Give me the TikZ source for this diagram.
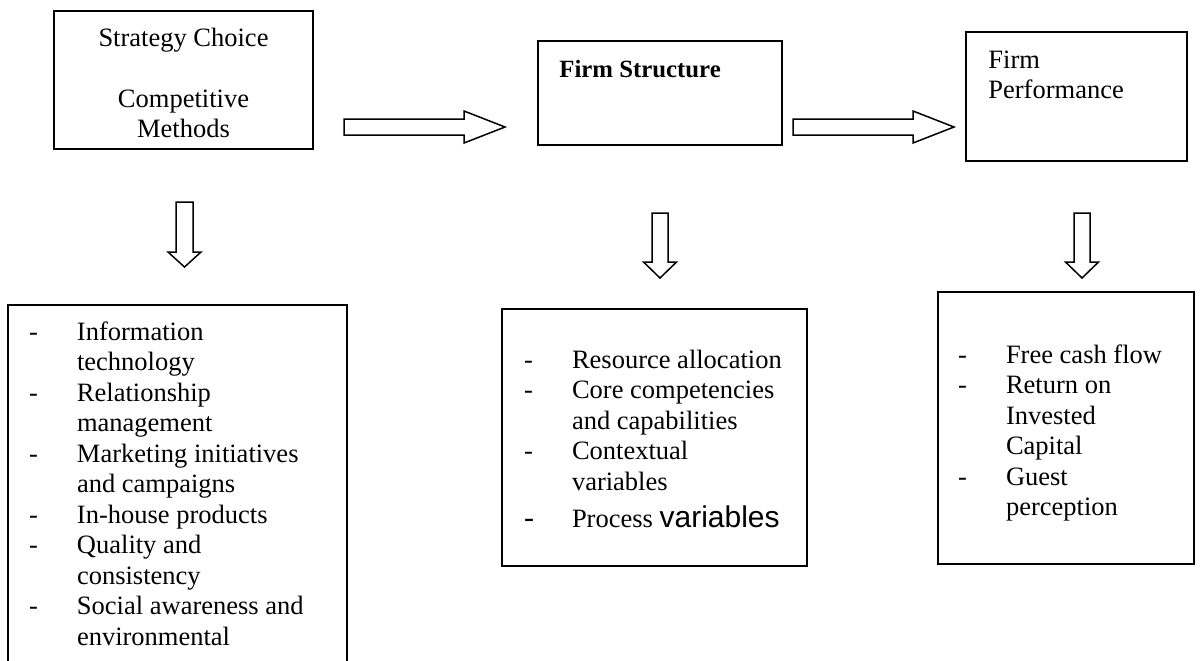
\documentclass[tikz,border=0pt]{standalone}
\usepackage{fontspec}
\setmainfont{Liberation Serif}
\setsansfont{Liberation Sans}
\usetikzlibrary{fit}

\tikzset{
  box/.style={draw, line width=1pt, inner sep=0pt},
  txt/.style={inner sep=0pt, font=\fontsize{13.25}{15.25}\selectfont},
  blockarrow/.style={draw, line width=0.75pt, line join=miter, fill=white}
}

\begin{document}
\begin{tikzpicture}[x=0.5pt, y=-0.5pt]
\useasboundingbox (0,0) rectangle (1202,660);

% --- the three top boxes
\node[box, fit={(54,11) (313,149)}] (choice) {};
\node[txt, anchor=base] (choicetext) at (183.5,46) {%
\begin{tabular}[t]{@{}c@{}}Strategy Choice\\ \\ Competitive\\ Methods\end{tabular}};

\node[box, fit={(538,41) (782,145)}] (structure) {};
\node[txt, anchor=base west, font=\fontsize{12.4}{15}\selectfont\bfseries] (structuretext)
  at (559,77) {Firm Structure};

\node[box, fit={(966,32) (1187,161)}] (performance) {};
\node[txt, anchor=base west] (performancetext) at (988,68) {%
\begin{tabular}[t]{@{}l@{}}Firm\\ Performance\end{tabular}};

% --- the arrows between them
\draw[blockarrow] (344,119) -- (464,119) -- (464,111) -- (505,127) -- (464,143)
  -- (464,135) -- (344,135) -- cycle;
\draw[blockarrow] (793,119) -- (913,119) -- (913,111) -- (954,127) -- (913,143)
  -- (913,135) -- (793,135) -- cycle;

% ---- the arrows going down
\draw[blockarrow] (176,202) -- (193,202) -- (193,252) -- (201,252) -- (184.5,267)
  -- (168,252) -- (176,252) -- cycle;
\draw[blockarrow] (652,213) -- (668,213) -- (668,262) -- (676.5,262) -- (660,278)
  -- (643.5,262) -- (652,262) -- cycle;
\draw[blockarrow] (1074,213) -- (1090,213) -- (1090,262) -- (1098.5,262) -- (1082,278)
  -- (1065.5,262) -- (1074,262) -- cycle;

% --- the lists (the left one runs off the page)
\node[box, fit={(8,305) (347,700)}] (methods) {};
\node[txt, anchor=base west] (methodslist) at (28.6,340) {%
\begin{tabular}[t]{@{}p{24pt}@{}l@{}}
- & Information\\
  & technology\\
- & Relationship\\
  & management\\
- & Marketing initiatives\\
  & and campaigns\\
- & In-house products\\
- & Quality and\\
  & consistency\\
- & Social awareness and\\
  & environmental
\end{tabular}};

\node[box, fit={(502,309) (807,566)}] (structurebox) {};
\node[txt, anchor=base west] (structurelist) at (523.6,368) {%
\begin{tabular}[t]{@{}p{24pt}@{}l@{}}
- & Resource allocation\\
- & Core competencies\\
  & and capabilities\\
- & Contextual\\
  & variables\\[3.2pt]
{\fontsize{15}{18}\selectfont -} & Process {\sffamily\fontsize{15}{18}\selectfont variables}
\end{tabular}};

\node[box, fit={(938,292) (1194,564)}] (performancebox) {};
\node[txt, anchor=base west] (performancelist) at (957.6,363) {%
\begin{tabular}[t]{@{}p{24pt}@{}l@{}}
- & Free cash flow\\
- & Return on\\
  & Invested\\
  & Capital\\
- & Guest\\
  & perception
\end{tabular}};
\end{tikzpicture}
\end{document}
